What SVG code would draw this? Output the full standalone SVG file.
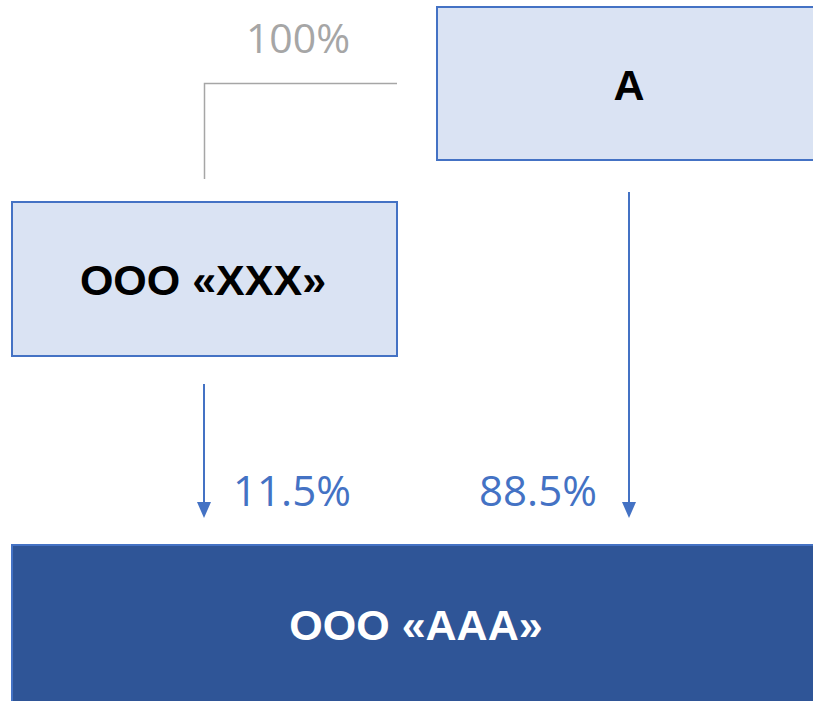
<svg xmlns="http://www.w3.org/2000/svg" width="813" height="701" viewBox="0 0 813 701">
<style>
.box{fill:#DAE3F3;stroke:#4472C4;stroke-width:2}
.dark{fill:#2F5597;stroke:#4472C4;stroke-width:2}
.lbl{font-family:"Liberation Sans",Arial,sans-serif;font-weight:bold;font-size:43px;text-anchor:middle}
.pct{font-family:"Open Sans","Noto Sans",sans-serif;font-size:42px;fill:#4472C4;text-anchor:middle}
.arrow{stroke:#4472C4;stroke-width:2;fill:none}
.head{fill:#4472C4}
</style>
<rect width="813" height="701" fill="#FFFFFF"/>
<g id="node-A">
<rect class="box" x="437" y="7" width="380" height="153"/>
<text class="lbl" x="629" y="100" fill="#000000">A</text>
</g>
<g id="node-XXX">
<rect class="box" x="12" y="202" width="385" height="154"/>
<text class="lbl" x="203" y="295" fill="#000000">ООО «XXX»</text>
</g>
<g id="node-AAA">
<rect class="dark" x="12" y="545" width="806" height="170"/>
<text class="lbl" x="416" y="640" fill="#FFFFFF">ООО «AAA»</text>
</g>
<g id="connectors">
<path d="M204.5 179 V83.5 H397" stroke="#A6A6A6" stroke-width="1.5" fill="none"/>
<text x="298" y="53" font-family="'Open Sans','Noto Sans',sans-serif" font-size="41" fill="#A6A6A6" text-anchor="middle">100%</text>
<line class="arrow" x1="204" y1="384" x2="204" y2="503"/>
<polygon class="head" points="197,502 211,502 204,518"/>
<text class="pct" x="292" y="506">11.5%</text>
<line class="arrow" x1="629" y1="192" x2="629" y2="503"/>
<polygon class="head" points="622,502 636,502 629,518"/>
<text class="pct" x="538" y="506">88.5%</text>
</g>
</svg>
